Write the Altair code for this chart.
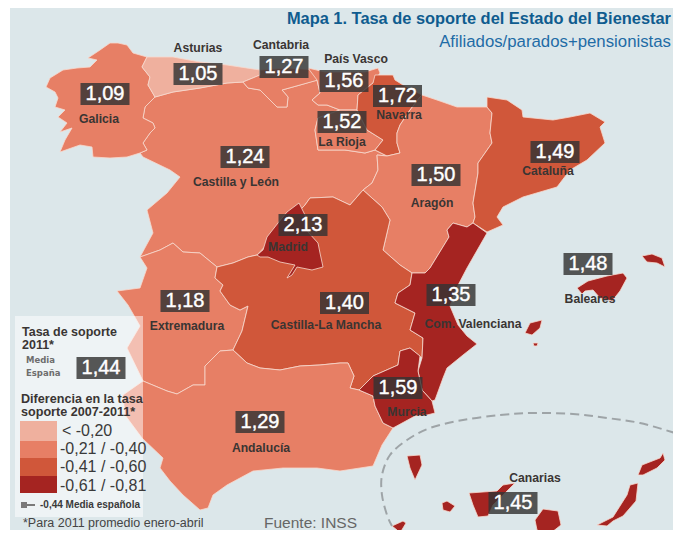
import altair as alt
import pandas as pd

# ---- colours of the four classes
CLASS_LABELS = ["< -0,20", "-0,21 / -0,40", "-0,41 / -0,60", "-0,61 / -0,81"]
CLASS_COLORS = ["#EFB09E", "#E77F65", "#D0573A", "#A52421"]

# ---- region outlines (map geometry, in picture units)
GALICIA = [(147,57),(133,53),(127,45),(118,43),(110,43),(100,50),(88,58),(97,60),(90,67),(77,68),(63,70),(50,78),(46,87),(55,92),(58,98),(55,107),(65,110),(58,117),(67,123),(60,132),(72,128),(65,140),(60,152),(80,145),(92,147),(93,157),(110,158),(127,157),(140,153),(147,150),(143,143),(150,133),(155,128),(153,123),(143,118),(145,107),(155,97),(148,85),(150,77),(142,67)]
ASTURIAS = [(147,57),(173,57),(200,62),(227,65),(260,70),(260,75),(243,82),(227,83),(200,88),(173,92),(155,97),(148,85),(150,77),(142,67)]
CANTABRIA = [(260,70),(287,68),(317,70),(318,80),(300,85),(282,90),(288,97),(287,107),(277,107),(270,100),(260,90),(248,88),(243,82),(260,75)]
PAIS_VASCO = [(308,68),(325,72),(345,72),(365,72),(378,68),(380,73),(373,83),(358,95),(357,110),(340,110),(327,105),(318,105),(312,100),(320,93),(317,80)]
NAVARRA = [(375,75),(393,75),(395,80),(403,85),(422,95),(420,97),(410,110),(400,125),(397,133),(397,143),(400,153),(387,156),(375,150),(383,140),(367,130),(357,110),(358,95),(373,83)]
RIOJA = [(340,110),(357,110),(367,130),(383,140),(375,150),(365,153),(345,150),(318,150),(315,130),(318,118)]
ARAGON = [(422,95),(437,100),(457,107),(487,107),(492,113),(490,133),(492,143),(478,163),(478,173),(473,203),(475,217),(473,223),(467,227),(453,223),(447,230),(449,237),(430,268),(425,273),(412,273),(400,265),(383,250),(390,220),(382,207),(363,190),(372,183),(378,170),(377,155),(387,156),(400,153),(397,143),(397,133),(400,125),(410,110),(420,97)]
CATALUNA = [(487,97),(507,100),(522,110),(523,117),(553,120),(570,117),(590,113),(605,122),(600,127),(605,143),(587,160),(570,170),(557,187),(523,197),(503,207),(497,217),(503,225),(487,232),(473,223),(475,217),(473,203),(478,173),(478,163),(492,143),(490,133),(492,113),(487,107)]
VALENCIA = [(453,223),(467,227),(473,223),(487,233),(467,268),(455,291),(450,306),(458,325),(467,336),(477,344),(463,355),(447,368),(443,378),(435,400),(432,401),(422,390),(418,371),(422,358),(423,338),(410,330),(415,313),(395,303),(398,293),(410,285),(412,273),(425,273),(430,268),(449,237),(447,230)]
MURCIA = [(410,348),(420,356),(418,371),(422,390),(432,401),(435,413),(427,415),(415,416),(393,428),(383,423),(375,406),(373,396),(359,390),(373,376),(398,365),(400,351)]
MANCHA = [(305,205),(310,198),(333,197),(350,205),(363,190),(382,207),(390,220),(383,250),(400,265),(412,273),(410,285),(398,293),(395,303),(415,313),(410,330),(423,338),(422,358),(410,348),(400,351),(398,365),(373,376),(359,390),(350,388),(354,376),(348,363),(340,363),(320,365),(300,366),(280,370),(260,368),(247,363),(233,350),(242,331),(248,306),(240,310),(230,305),(220,291),(223,285),(215,278),(217,267),(233,263),(248,257),(257,255)]
MADRID = [(257,255),(263,250),(267,237),(278,223),(287,212),(299,203),(305,215),(308,232),(318,243),(320,253),(323,267),(312,270),(297,267),(292,275),(287,278),(295,265),(280,262),(268,257),(260,257)]
CASTILLA_LEON = [(155,97),(173,92),(200,88),(227,83),(243,82),(248,88),(260,90),(270,100),(277,107),(287,107),(288,97),(282,90),(300,85),(317,80),(320,93),(312,100),(318,105),(327,105),(340,110),(318,118),(315,130),(318,150),(345,150),(365,153),(375,150),(387,156),(377,155),(378,170),(372,183),(363,190),(350,205),(333,197),(310,198),(305,205),(257,255),(248,257),(233,263),(217,267),(200,253),(183,252),(173,243),(160,250),(140,257),(153,233),(147,210),(167,193),(180,177),(170,170),(143,157),(140,153),(147,150),(143,143),(150,133),(155,128),(153,123),(143,118),(145,107)]
EXTREMADURA = [(140,257),(160,250),(173,243),(183,252),(200,253),(217,267),(215,278),(223,285),(220,291),(230,305),(240,310),(248,306),(242,331),(233,350),(220,351),(205,366),(205,385),(193,385),(177,394),(167,391),(143,381),(127,348),(140,326),(128,305),(117,291),(140,288),(147,268)]
ANDALUCIA = [(143,381),(123,395),(125,415),(142,438),(163,458),(160,468),(170,481),(183,495),(200,510),(208,508),(213,495),(227,485),(253,471),(283,468),(317,468),(340,471),(360,468),(373,466),(382,445),(393,428),(383,423),(375,406),(373,396),(359,390),(350,388),(354,376),(348,363),(340,363),(320,365),(300,366),(280,370),(260,368),(247,363),(233,350),(220,351),(205,366),(205,385),(193,385),(177,394),(167,391)]
MALLORCA = [(577,288),(588,281),(607,276),(623,273),(627,278),(620,291),(612,301),(600,298),(593,290),(585,291),(582,294)]
MENORCA = [(642,256),(652,254),(662,258),(665,267),(657,263),(647,262)]
IBIZA = [(525,333),(530,323),(542,320),(540,328),(532,335)]
FORMENTERA = [(533,343),(538,343),(537,346),(534,346)]
LA_PALMA = [(407,456),(420,455),(422,465),(415,480),(410,468)]
GOMERA = [(442,503),(447,501),(455,506),(450,512),(443,510)]
HIERRO = [(392,526),(403,521),(406,523),(400,533),(397,530)]
TENERIFE = [(469,493),(497,491),(503,485),(515,483),(507,491),(493,505),(488,516),(478,517),(473,505)]
GRAN_CANARIA = [(535,520),(543,509),(558,511),(561,525),(547,536),(537,530)]
FUERTEVENTURA = [(597,525),(613,517),(627,495),(630,485),(638,483),(636,501),(623,516),(613,521),(607,526)]
LANZAROTE = [(638,475),(642,465),(660,458),(663,453),(665,460),(657,468),(643,475)]

SHAPES = [
    (CASTILLA_LEON, 1), (GALICIA, 1), (ASTURIAS, 0), (CANTABRIA, 1), (PAIS_VASCO, 1),
    (RIOJA, 1), (NAVARRA, 2), (ARAGON, 1), (CATALUNA, 2), (EXTREMADURA, 1),
    (MANCHA, 2), (MADRID, 3), (ANDALUCIA, 1), (VALENCIA, 3), (MURCIA, 3),
    (MALLORCA, 3), (MENORCA, 3), (IBIZA, 3), (FORMENTERA, 3), (LA_PALMA, 3), (GOMERA, 3),
    (HIERRO, 3), (TENERIFE, 3), (GRAN_CANARIA, 3), (FUERTEVENTURA, 3), (LANZAROTE, 3),
]

# ---- values and labels
VALUE_TEXT = ["1,09","1,05","1,27","1,56","1,72","1,52","1,24","1,50","1,49","2,13","1,48","1,18","1,40","1,35","1,59","1,29","1,45","1,44"]
VALUE_X = [105,198,284,344,397.5,342,245,436,555,303,588,185,344.5,451,398,260,513,101]
VALUE_Y = [94,74,67,81,96,122,157,175,152,225,264,301,303,295,388,422,503,368]

REGION_NAMES = ["Asturias","Cantabria","País Vasco","Navarra","La Rioja","Galicia","Castilla y León","Aragón","Cataluña","Madrid","Extremadura","Castilla-La Mancha","Com. Valenciana","Baleares","Murcia","Andalucía","Canarias"]
REGION_X = [198,281,356,399,342,99,236,432,548,288,187,326,473,590,407,261,535]
REGION_Y = [48,45,59,115,142,119,182,203,171,247,326,325,324,299,412,448,478]

COAST_X = [675,640,607,573,533,500,463,430,407,390,382,382,387,392]
COAST_Y = [433,423,418,414,413,415,420,428,440,455,475,495,515,526]

X_SCALE = alt.Scale(domain=[8, 673], nice=False, zero=False)
Y_SCALE = alt.Scale(domain=[8, 530], nice=False, zero=False, reverse=True)
X = lambda f="x": alt.X(f"{f}:Q", scale=X_SCALE, axis=None)
Y = lambda f="y": alt.Y(f"{f}:Q", scale=Y_SCALE, axis=None)


def span(x0, x1, y0, y1, color, opacity=1.0):
    return alt.Chart(pd.DataFrame({"x": [x0], "x2": [x1], "y": [y0], "y2": [y1]})).mark_rect(
        color=color, opacity=opacity
    ).encode(x=X(), x2="x2:Q", y=Y(), y2="y2:Q")


def label(text, x, y, size, color="#3A3533", weight="bold", align="center", font="Liberation Sans"):
    return alt.Chart(pd.DataFrame({"x": [x], "y": [y], "t": [text]})).mark_text(
        fontSize=size, color=color, fontWeight=weight, align=align, baseline="middle", font=font
    ).encode(x=X(), y=Y(), text="t:N")


features = [
    {"type": "Feature", "properties": {"cls": CLASS_LABELS[c]},
     "geometry": {"type": "Polygon", "coordinates": [[list(p) for p in (ring + [ring[0]])]]}}
    for ring, c in SHAPES
]

color_scale = alt.Scale(domain=CLASS_LABELS, range=CLASS_COLORS)

background = span(10, 673, 7, 530, "#DCE7EA")

regions = alt.Chart(alt.Data(values=features)).mark_geoshape(
    stroke="#F7D9CE", strokeWidth=0.8
).encode(
    color=alt.Color("properties.cls:N", scale=color_scale, legend=None)
).project(type="identity", scale=1, translate=[-8, -8])

coast = alt.Chart(pd.DataFrame({"x": COAST_X, "y": COAST_Y, "i": range(len(COAST_X))})).mark_line(
    color="#9EA4A7", strokeWidth=2, strokeDash=[9, 5], interpolate="cardinal", clip=True
).encode(x=X(), y=Y(), order="i:Q")

panel = span(15, 143, 316, 517, "#FFFFFF", 0.5)

boxes_df = pd.DataFrame({"x": VALUE_X, "y": VALUE_Y, "t": VALUE_TEXT})
boxes = alt.Chart(boxes_df).mark_rect(width=49, height=22, color="#333333", opacity=0.82).encode(x=X(), y=Y())
values = alt.Chart(boxes_df).mark_text(
    fontSize=20, color="#FFFFFF", stroke="#FFFFFF", strokeWidth=0.4, align="center", baseline="middle",
    font="Liberation Sans"
).encode(x=X(), y=Y(), text="t:N")

names = alt.Chart(pd.DataFrame({"x": REGION_X, "y": REGION_Y, "t": REGION_NAMES})).mark_text(
    fontSize=12.2, fontWeight="bold", color="#3A3533", align="center", baseline="middle", font="Liberation Sans"
).encode(x=X(), y=Y(), text="t:N")

legend_df = pd.DataFrame({
    "y": [421, 441, 458, 476], "y2": [441, 458, 476, 493],
    "lab": CLASS_LABELS, "ty": [431, 449, 467, 486],
})
swatches = alt.Chart(legend_df).mark_rect().encode(
    x=alt.value(12), x2=alt.value(49), y=Y(), y2="y2:Q",
    color=alt.Color("lab:N", scale=color_scale, legend=None),
)
legend_text = alt.Chart(legend_df).transform_calculate(x="datum.lab[0] == '<' ? 62 : 60").mark_text(
    fontSize=16, color="#3A3A3A", align="left", baseline="middle", font="Liberation Sans"
).encode(x=X(), y=Y("ty"), text="lab:N")

mean_marker = span(21, 27, 502, 508, "#7A7A7A") + span(27, 35, 504, 506, "#7A7A7A")

texts = [
    label("Mapa 1. Tasa de soporte del Estado del Bienestar", 671, 19, 16.4, "#0F5C8F", align="right"),
    label("Afiliados/parados+pensionistas", 671, 42, 16.8, "#1F6CA6", "normal", "right"),
    label("Tasa de soporte", 22, 332, 12.5, align="left"),
    label("2011*", 22, 345, 12.5, align="left"),
    label("Media", 26, 360, 8.5, "#6D6D6D", align="left", font="DejaVu Sans"),
    label("España", 26, 373, 8.5, "#6D6D6D", align="left", font="DejaVu Sans"),
    label("Diferencia en la tasa", 21, 399, 12.6, align="left"),
    label("soporte 2007-2011*", 21, 412, 12.6, align="left"),
    label("-0,44 Media española", 40, 505, 10, "#3A3A3A", align="left"),
    label("*Para 2011 promedio enero-abril", 23, 523, 12.5, "#444444", "normal", "left"),
    label("Fuente: INSS", 264, 523, 15.5, "#666666", "normal", "left"),
]

chart = alt.layer(
    background, regions, coast, panel, boxes, values, names, swatches, legend_text, mean_marker, *texts
).properties(
    width=665, height=522, padding=0, background="#FFFFFF",
    autosize=alt.AutoSizeParams(type="none"),
).configure_view(stroke=None)

chart.save("out.html", embed_options={"renderer": "svg", "actions": False})
